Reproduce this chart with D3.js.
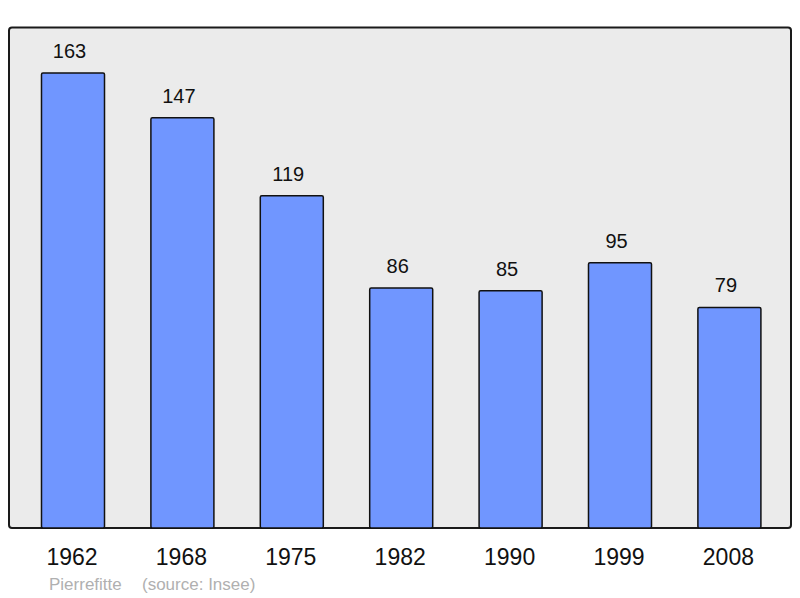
<!DOCTYPE html>
<html><head><meta charset="utf-8">
<script src="https://cdn.jsdelivr.net/npm/d3@7"></script>
<style>body{margin:0;background:#fff}svg{display:block}</style>
</head><body>
<script>
const years = ["1962","1968","1975","1982","1990","1999","2008"];
const population = [163,147,119,86,85,95,79];
const placeName = "Pierrefitte";
const sourceText = "(source: Insee)";

const W = 800, H = 598;
const svg = d3.select("body").append("svg").attr("width", W).attr("height", H);
const font = "'Liberation Sans', Arial, sans-serif";

svg.append("rect").attr("x", 9).attr("y", 27.5).attr("width", 782).attr("height", 500.5)
  .attr("rx", 3).attr("fill", "#ebebeb").attr("stroke", "#1a1a1a").attr("stroke-width", 2);

const x = d3.scaleBand().domain(years).range([18.3, 784.1]).paddingInner(0.424).paddingOuter(0.212);
const y = d3.scaleLinear().domain([0, 163]).range([528, 73]);

svg.selectAll("rect.bar").data(years).join("rect").attr("class","bar")
  .attr("x", d => x(d)).attr("width", x.bandwidth())
  .attr("y", (d,i) => y(population[i])).attr("height", (d,i) => y(0) - y(population[i]))
  .attr("rx", 1.5)
  .attr("fill", "#7096ff").attr("stroke", "#111").attr("stroke-width", 1.5);

svg.selectAll("text.val").data(years).join("text").attr("class","val")
  .attr("x", d => x(d) + x.bandwidth()/2 - 3.5).attr("y", (d,i) => y(population[i]) - 15)
  .attr("text-anchor","middle").attr("font-family", font).attr("font-size", 20).attr("fill","#111")
  .text((d,i) => population[i]);

const xAxis = svg.append("g").attr("transform", "translate(0,528)")
  .call(d3.axisBottom(x).tickSize(0).tickPadding(0));
xAxis.select(".domain").remove();
xAxis.selectAll("text").attr("font-family", font).attr("font-size", 23).attr("fill","#111")
  .attr("dy", null).attr("y", 37).attr("dx", -1);

svg.append("text").attr("x", 49).attr("y", 590).attr("font-family", font).attr("font-size", 17)
  .attr("fill", "#b0b0b0").text(placeName);
svg.append("text").attr("x", 142).attr("y", 590).attr("font-family", font).attr("font-size", 17)
  .attr("fill", "#b0b0b0").text(sourceText);
</script>
</body></html>
